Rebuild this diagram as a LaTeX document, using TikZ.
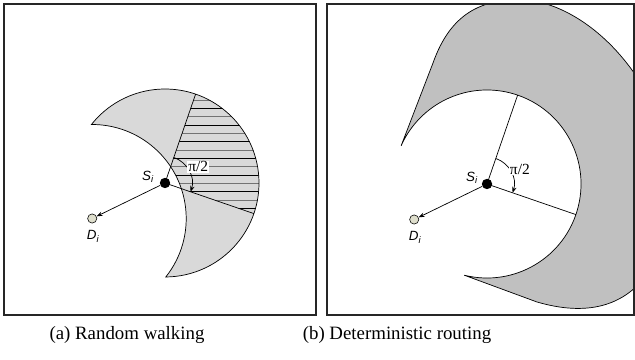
\documentclass[tikz,border=0pt]{standalone}
\usepackage{fontspec}
\setmainfont{Liberation Serif}
\setsansfont{Liberation Sans}
\usetikzlibrary{arrows.meta,calc}

\definecolor{moonfill}{RGB}{217,217,217}
\definecolor{bandfill}{RGB}{192,192,192}
\definecolor{destfill}{RGB}{222,222,204}

% left crescent: disk round S minus disk round D
\newcommand\moonpath{(sa) ++(141.52:94) arc[start angle=141.52, end angle=-89.52, radius=94] arc[start angle=-38.48, end angle=90.48, radius=94] -- cycle}
% right band round the circle
\newcommand\bandpath{($(sb)+(156:94)$) -- (433,297) .. controls (450,345) and (480,362) .. (525,360) .. controls (560,358) and (610,330) .. (645,270) -- (660,180) -- (650,90) .. controls (625,52) and (585,44) .. (537,58) -- ($(sb)+(-104:94)$) arc[start angle=-104, end angle=156, radius=94] -- cycle}

\begin{document}
\begin{tikzpicture}[x=0.025cm, y=0.025cm, >={Stealth[length=1.5mm, width=1.1mm]}, frame/.style={draw=black!85, line width=0.75pt}, edge/.style={line width=0.5pt}, src/.style={circle, fill=black, inner sep=0pt, minimum size=2.6mm}, dst/.style={circle, draw, fill=destfill, line width=0.4pt, inner sep=0pt, minimum size=2.3mm}, lbl/.style={font=\sffamily\itshape\fontsize{9.5}{10}\selectfont, inner sep=0pt}, ang/.style={fill=white, inner sep=0.6pt, font=\fontsize{11}{12}\selectfont}, caption/.style={font=\fontsize{13.4}{15}\selectfont, inner sep=0pt}]
	\useasboundingbox (0,0) rectangle (635,360);

	% (a) random walking
	\coordinate (sa) at (165,177);
	\coordinate (da) at ($(sa)+(206:81)$);
	\coordinate (ua) at ($(sa)+(71:94)$);
	\coordinate (la) at ($(sa)+(-19:94)$);
	\fill[moonfill] \moonpath;
	\begin{scope}
		\clip \moonpath;
		\clip (sa) -- (la) arc[start angle=-19, end angle=71, radius=94] -- cycle;
		\foreach \k in {0,...,8} {
			\draw[line width=0.5pt] (160,268.4-16.7*\k) -- (270,268.4-16.7*\k);
			\draw[line width=0.45pt, black!55] (160,260.05-16.7*\k) -- (270,260.05-16.7*\k);
		}
	\end{scope}
	\draw[edge] \moonpath;
	\draw[edge] (sa) -- (ua);
	\draw[edge] (sa) -- (la);
	\draw[edge, ->] ($(sa)+(71:27)$) arc[start angle=71, end angle=-19, radius=27];
	\node[ang] (pa) at ($(sa)+(26:37)$) {π/2};
	\node[src] (Sa) at (sa) {};
	\node[dst] (Da) at (da) {};
	\draw[edge, ->] (Sa) -- (Da);
	\node[lbl] (tsa) at ($(sa)+(-17,6)$) {S\textsubscript{i}};
	\node[lbl] (tda) at ($(da)+(1,-18)$) {D\textsubscript{i}};
	\draw[frame] (4,45) rectangle (316,356);
	\node[caption] (capa) at (127,25) {(a) Random walking};

	% (b) deterministic routing
	\coordinate (sb) at (487,176);
	\coordinate (db) at ($(sb)+(206:81)$);
	\coordinate (ub) at ($(sb)+(71:94)$);
	\coordinate (lb) at ($(sb)+(-19:94)$);
	\begin{scope}
		\clip (327,45) rectangle (634,356);
		\fill[bandfill] \bandpath;
		\draw[edge] \bandpath;
	\end{scope}
	\draw[edge] (sb) -- (ub);
	\draw[edge] (sb) -- (lb);
	\draw[edge, ->] ($(sb)+(71:27)$) arc[start angle=71, end angle=-19, radius=27];
	\node[ang] (pb) at ($(sb)+(24:36)$) {π/2};
	\node[src] (Sb) at (sb) {};
	\node[dst] (Db) at (db) {};
	\draw[edge, ->] (Sb) -- (Db);
	\node[lbl] (tsb) at ($(sb)+(-15,6)$) {S\textsubscript{i}};
	\node[lbl] (tdb) at ($(db)+(1,-18)$) {D\textsubscript{i}};
	\draw[frame] (327,45) rectangle (634,356);
	\node[caption] (capb) at (397,25) {(b) Deterministic routing};
\end{tikzpicture}
\end{document}
